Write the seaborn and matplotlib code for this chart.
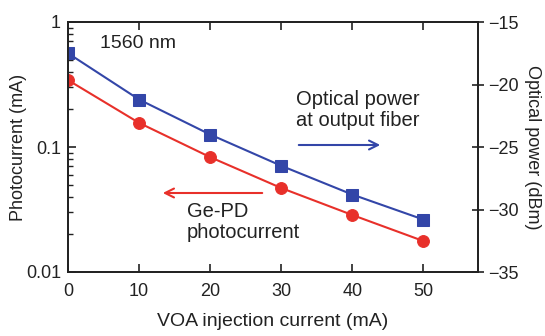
import matplotlib
matplotlib.use("Agg")
import matplotlib.pyplot as plt
import seaborn as sns
import pandas as pd
import numpy as np
from matplotlib.ticker import LogLocator, NullFormatter

sns.set_style("ticks")
plt.rcParams['font.family'] = ['Liberation Sans', 'DejaVu Sans']

voa_current = [0, 10, 20, 30, 40, 50]
photocurrent = [0.343, 0.156, 0.083, 0.047, 0.0286, 0.0177]
optical_power = [-17.5, -21.2, -24.0, -26.5, -28.8, -30.8]

red = "#e8302a"
blue = "#3346a8"
txt = "#222222"

df = pd.DataFrame({"voa": voa_current, "pc": photocurrent, "op": optical_power})

fig = plt.figure(figsize=(5.45, 3.36), dpi=100)
ax = fig.add_axes([68/545, 1-272/336, (478-68)/545, (272-22)/336])
ax2 = ax.twinx()

sns.lineplot(data=df, x="voa", y="pc", ax=ax, color=red, marker="o", markersize=8.5,
             markeredgecolor=red, linewidth=1.5)
sns.lineplot(data=df, x="voa", y="op", ax=ax2, color=blue, marker="s", markersize=9,
             markeredgecolor=blue, linewidth=1.5)

ax.set_yscale("log")
ax.set_ylim(0.01, 1)
ax.set_xlim(0, 57.7)
ax2.set_ylim(-35, -15)
ax.set_xticks([0, 10, 20, 30, 40, 50])
ax.set_yticks([0.01, 0.1, 1])
ax.set_yticklabels(["0.01", "0.1", "1"])
ax.yaxis.set_minor_locator(LogLocator(base=10, subs=np.arange(2, 10)))
ax.yaxis.set_minor_formatter(NullFormatter())
ax2.set_yticks([-35, -30, -25, -20, -15])
ax2.set_yticklabels(["\u221235", "\u221230", "\u221225", "\u221220", "\u221215"])

for a in (ax, ax2):
    for s in a.spines.values():
        s.set_visible(True)
        s.set_linewidth(1.3)
        s.set_color(txt)
ax.tick_params(axis="both", which="major", direction="in", length=6, width=1.2,
               labelsize=13, top=True, colors=txt)
ax.tick_params(axis="x", which="major", pad=8)
ax.tick_params(axis="y", which="major", pad=5)
ax.tick_params(axis="y", which="minor", direction="in", length=3.5, width=1.0, colors=txt)
ax2.tick_params(axis="y", which="major", direction="inout", length=8, width=1.2,
                labelsize=13, pad=3, colors=txt)

ax.set_xlabel("VOA injection current (mA)", fontsize=14, labelpad=9, color=txt)
ax.set_ylabel("Photocurrent (mA)", fontsize=13, color=txt)
ax2.set_ylabel("Optical power (dBm)", fontsize=13, rotation=270, color=txt)
ax.yaxis.set_label_coords(-0.12, 0.5)
ax2.yaxis.set_label_coords(1.134, 0.5)
ax2.yaxis.label.set_va("center")
ax.yaxis.label.set_va("center")

ax.text(0.078, 0.912, "1560 nm", transform=ax.transAxes, fontsize=14, va="center", color=txt)
ax.text(0.555, 0.648, "Optical power\nat output fiber", transform=ax.transAxes,
        fontsize=14.5, va="center", linespacing=1.1, color=txt)
ax.text(0.29, 0.2, "Ge-PD\nphotocurrent", transform=ax.transAxes,
        fontsize=14.5, va="center", linespacing=1.1, color=txt)

ax.annotate("", xy=(383/545, 1-145/336), xytext=(296/545, 1-145/336),
            xycoords="figure fraction",
            arrowprops=dict(arrowstyle="->", color=blue, lw=1.5, mutation_scale=16))
ax.annotate("", xy=(160/545, 1-193/336), xytext=(265/545, 1-193/336),
            xycoords="figure fraction",
            arrowprops=dict(arrowstyle="->", color=red, lw=1.5, mutation_scale=16))

fig.savefig("out.png", dpi=100)
